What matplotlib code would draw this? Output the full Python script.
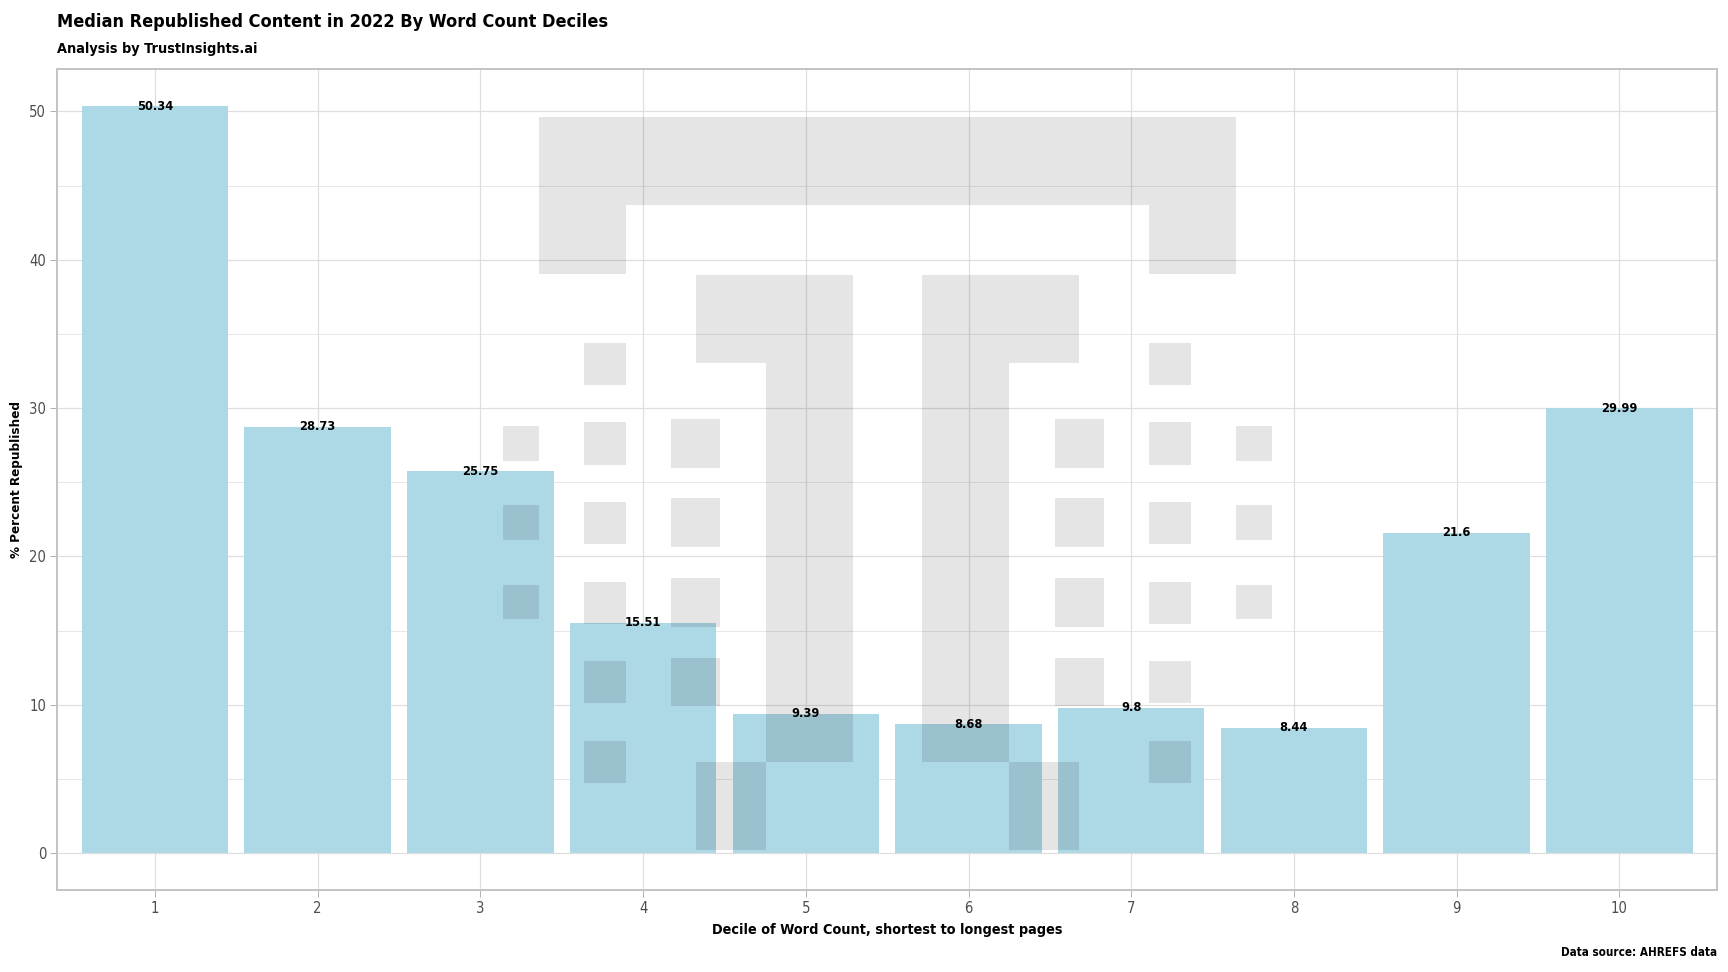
"""
Median republished content by word count decile (TrustInsights.ai style)
"""
import matplotlib
matplotlib.use('Agg')
import matplotlib.pyplot as plt
from matplotlib.patches import Rectangle
from matplotlib.transforms import Affine2D
from matplotlib.ticker import MultipleLocator

plt.rcParams['font.family'] = ['DejaVu Sans']
plt.rcParams['font.stretch'] = 'condensed'

# data
deciles = [1, 2, 3, 4, 5, 6, 7, 8, 9, 10]
pct_republished = [50.34, 28.73, 25.75, 15.51, 9.39, 8.68, 9.8, 8.44, 21.6, 29.99]

TITLE = 'Median Republished Content in 2022 By Word Count Deciles'
SUBTITLE = 'Analysis by TrustInsights.ai'
X_LABEL = 'Decile of Word Count, shortest to longest pages'
Y_LABEL = '% Percent Republished'
CAPTION = 'Data source: AHREFS data'

BAR_COLOR = '#ADD8E6'
GRID_COLOR = '#DEDEDE'
BORDER_COLOR = '#C4C4C4'
TICK_TEXT = '#4D4D4D'

# watermark logo, drawn as blocks in reference-pixel units (x, y, w, h), y downwards
LOGO_BLOCKS = [
    (0, 0, 697.6, 88), (0, 88, 87.3, 69.3), (610.3, 88, 87.3, 69.3),
    (157.3, 157.7, 157, 88), (227.3, 245.7, 87, 399.6), (157.3, 645.3, 70, 87.7),
    (383.3, 157.7, 157, 88), (383.3, 245.7, 87, 399.6), (470.3, 645.3, 70, 87.7),
]
for top in [225.7, 305.3, 385, 464.7, 544, 624]:
    LOGO_BLOCKS += [(45.3, top, 42, 42.3), (610.3, top, 42, 42.3)]
for top in [302, 381.3, 461, 540.7]:
    LOGO_BLOCKS += [(132.3, top, 49.3, 48.7), (516, top, 49.3, 48.7)]
for top in [309, 388.3, 467.7]:
    LOGO_BLOCKS += [(-35.4, top, 35.4, 34.7), (697.6, top, 35.4, 34.7)]


def add_watermark(ax):
    # axes is 1659.7 x 821.5 reference px, logo anchored at (481.4, 48) from top-left
    tr = Affine2D().scale(1 / 1659.7, -1 / 821.5).translate(481.4 / 1659.7, 773.4 / 821.5) + ax.transAxes
    for x, y, w, h in LOGO_BLOCKS:
        ax.add_patch(Rectangle((x, y), w, h, transform=tr, facecolor='black', alpha=0.1,
                               linewidth=0, antialiased=False, zorder=3))


def main():
    fig = plt.figure(figsize=(12, 6.75), dpi=144)
    ax = fig.add_axes([0.03316, 0.08395, 0.96047, 0.84506])

    ax.bar(deciles, pct_republished, width=0.9, color=BAR_COLOR, zorder=2)
    for x, v in zip(deciles, pct_republished):
        ax.text(x, v, f'{v:g}', ha='center', va='center', fontsize=6.4, fontweight='bold',
                color='black', zorder=4)

    add_watermark(ax)

    top = max(pct_republished)
    ax.set_xlim(0.4, 10.6)
    ax.set_ylim(-0.05 * top, 1.05 * top)
    ax.set_xticks(deciles)
    ax.yaxis.set_major_locator(MultipleLocator(10))
    ax.yaxis.set_minor_locator(MultipleLocator(5))

    ax.set_axisbelow(True)
    ax.grid(which='major', color=GRID_COLOR, linewidth=0.6)
    ax.grid(which='minor', axis='y', color=GRID_COLOR, linewidth=0.35)
    for s in ax.spines.values():
        s.set_color(BORDER_COLOR)
        s.set_linewidth(1.0)
    ax.tick_params(which='major', length=3.5, width=0.5, color='#B3B3B3',
                   labelsize=7.4, labelcolor=TICK_TEXT, pad=2)
    ax.tick_params(which='minor', length=0)

    ax.set_xlabel(X_LABEL, fontsize=7.2, fontweight='bold', labelpad=3.5)
    ax.set_ylabel(Y_LABEL, fontsize=6.7, fontweight='bold', labelpad=3)

    fig.text(57.3 / 1728, 1 - 27 / 972, TITLE, fontsize=9.0, fontweight='bold', va='baseline')
    fig.text(57.3 / 1728, 1 - 53 / 972, SUBTITLE, fontsize=7.2, fontweight='bold', va='baseline')
    fig.text(1717 / 1728, 1 - 956 / 972, CAPTION, fontsize=5.8, fontweight='bold',
             ha='right', va='baseline')

    fig.savefig('out.png', dpi=144)
    plt.close(fig)


if __name__ == '__main__':
    main()
